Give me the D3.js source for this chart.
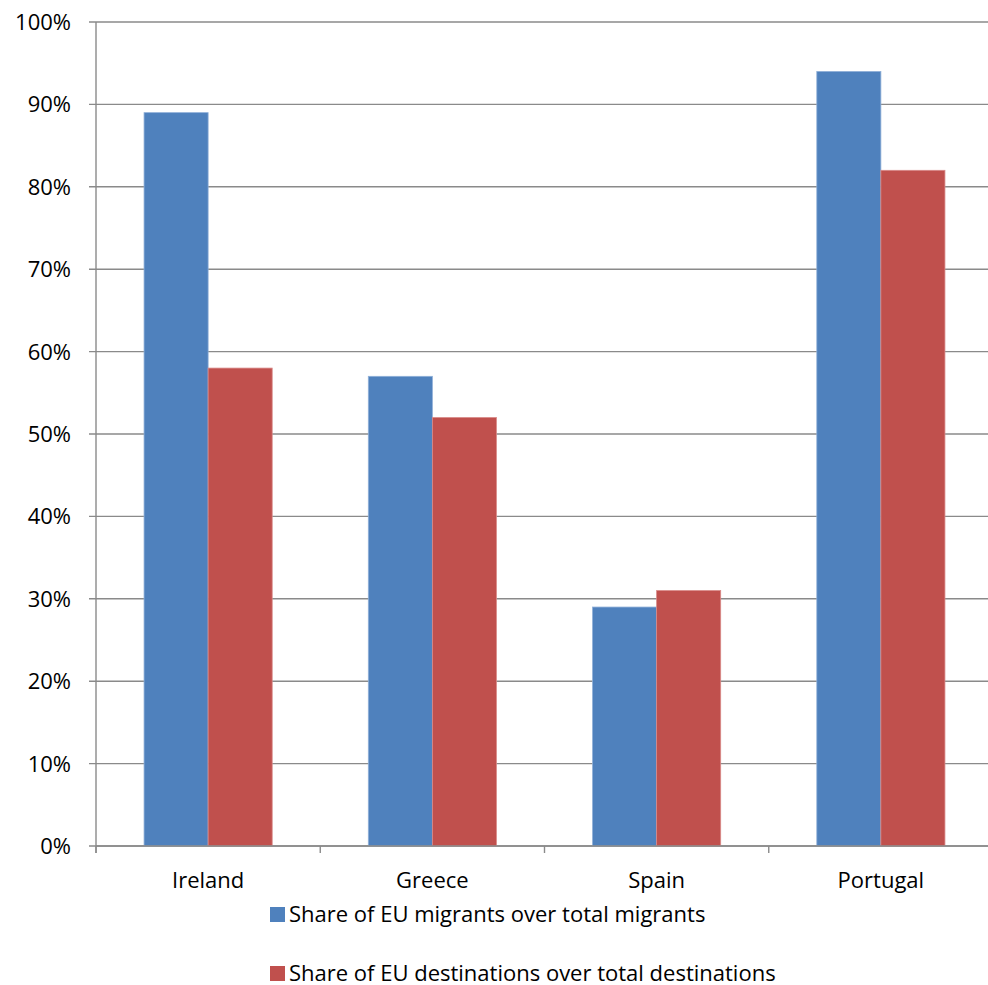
<!DOCTYPE html>
<html lang="en">
<head>
    <meta charset="UTF-8">
    <title>EU migrants share</title>
    <script src="https://d3js.org/d3.v7.min.js"></script>
    <style>
        body { margin: 0; background: #fff; }
        svg text { font-family: 'Open Sans', 'Noto Sans', sans-serif; fill: #000; }
    </style>
</head>
<body>
    <svg width="988" height="985"></svg>
    <script>
        const countries = ["Ireland", "Greece", "Spain", "Portugal"];
        const seriesNames = [
            "Share of EU migrants over total migrants",
            "Share of EU destinations over total destinations"
        ];
        const migrantsShare = [0.89, 0.57, 0.29, 0.94];
        const destinationsShare = [0.58, 0.52, 0.31, 0.82];
        const colors = ["#4F81BD", "#C0504D"];
        const yTicks = [0, 0.1, 0.2, 0.3, 0.4, 0.5, 0.6, 0.7, 0.8, 0.9, 1];

        const svg = d3.select("svg");
        const plotLeft = 96, plotRight = 993, plotTop = 22, plotBottom = 846;

        const x = d3.scaleBand().domain(countries).range([plotLeft, plotRight]);
        const xInner = d3.scaleBand().domain([0, 1]).range([0, x.bandwidth()]).paddingOuter(0.75).paddingInner(0);
        const y = d3.scaleLinear().domain([0, 1]).range([plotBottom, plotTop]);

        // gridlines + y ticks
        svg.append("g").selectAll("line")
            .data(yTicks)
            .join("line")
            .attr("x1", plotLeft - 7).attr("x2", plotRight)
            .attr("y1", d => y(d)).attr("y2", d => y(d))
            .attr("stroke", "#8a8a8a").attr("stroke-width", 1.4);

        svg.append("g").selectAll("text")
            .data(yTicks)
            .join("text")
            .attr("x", 71).attr("y", d => y(d) + 8)
            .attr("text-anchor", "end")
            .attr("font-size", 22)
            .text(d3.format(".0%"));

        // bars
        const rows = countries.map((c, i) => ({ c, v: [migrantsShare[i], destinationsShare[i]] }));
        svg.append("g").selectAll("g")
            .data(rows)
            .join("g")
            .attr("transform", d => `translate(${x(d.c)},0)`)
            .selectAll("rect")
            .data(d => d.v.map((v, k) => ({ v, k })))
            .join("rect")
            .attr("x", d => xInner(d.k))
            .attr("width", xInner.bandwidth())
            .attr("y", d => y(d.v))
            .attr("height", d => plotBottom - y(d.v))
            .attr("fill", d => colors[d.k])
            .attr("stroke", d => d.k === 0 ? "#8fb0d8" : "#d98a88")
            .attr("stroke-width", 0.8);

        // axes lines
        svg.append("line")
            .attr("x1", plotLeft).attr("x2", plotLeft).attr("y1", plotTop).attr("y2", plotBottom + 7)
            .attr("stroke", "#8a8a8a").attr("stroke-width", 1.4);
        svg.append("line")
            .attr("x1", plotLeft).attr("x2", plotRight).attr("y1", plotBottom).attr("y2", plotBottom)
            .attr("stroke", "#8a8a8a").attr("stroke-width", 1.4);
        svg.append("g").selectAll("line")
            .data(countries.map(c => x(c)).concat([plotRight]))
            .join("line")
            .attr("x1", d => d).attr("x2", d => d)
            .attr("y1", plotBottom).attr("y2", plotBottom + 7)
            .attr("stroke", "#8a8a8a").attr("stroke-width", 1.4);

        svg.append("g").selectAll("text")
            .data(countries)
            .join("text")
            .attr("x", d => x(d) + x.bandwidth() / 2)
            .attr("y", 888)
            .attr("text-anchor", "middle")
            .attr("font-size", 22)
            .text(d => d);

        // legend
        const legend = svg.append("g").selectAll("g")
            .data(seriesNames)
            .join("g")
            .attr("transform", (d, i) => `translate(270,${907 + i * 59})`);
        legend.append("rect")
            .attr("width", 15).attr("height", 15)
            .attr("fill", (d, i) => colors[i]);
        legend.append("text")
            .attr("x", 19).attr("y", 15)
            .attr("font-size", 22)
            .text(d => d);
    </script>
</body>
</html>
